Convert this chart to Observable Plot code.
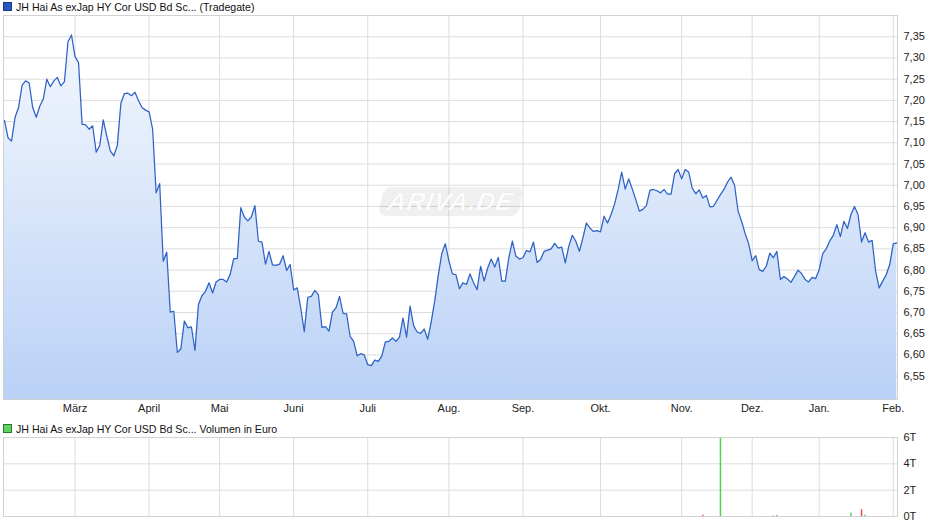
<!DOCTYPE html>
<html>
<head>
<meta charset="utf-8">
<script src="https://cdn.jsdelivr.net/npm/d3@7"></script>
<script src="https://cdn.jsdelivr.net/npm/@observablehq/plot@0.6"></script>
<style>
  html, body { margin: 0; padding: 0; background: #fff; }
  #wrap { position: relative; width: 940px; height: 526px; overflow: hidden; font-family: "Liberation Sans", Arial, sans-serif; }
  .legend { position: absolute; left: 3px; font-size: 10.6px; color: #111; white-space: nowrap; display: flex; align-items: center; }
  .legend .sw { width: 7px; height: 7px; margin-right: 4px; border: 1px solid; }
  .plot { position: absolute; left: 0; }
  #wm { position: absolute; left: 381px; top: 187px; width: 140px; height: 29px; border-radius: 8px;
        background: rgba(0,0,0,0.06); transform: skewX(-12deg); display: flex; align-items: center; justify-content: center; }
  #wm span { font: italic bold 25px "Liberation Sans", Arial, sans-serif; color: rgba(255,255,255,0.95); letter-spacing: 1px;
             text-shadow: 0 0 1px rgba(0,0,0,0.12); transform: skewX(2deg); }
</style>
</head>
<body>
<div id="wrap">
  <div class="legend" style="top:0px;height:13px"><span class="sw" style="background:#2659c0;border-color:#173a80"></span>JH Hai As exJap HY Cor USD Bd Sc... (Tradegate)</div>
  <div id="main" class="plot" style="top:0px"></div>
  <div id="wm"><span>ARIVA.DE</span></div>
  <div class="legend" style="top:422px;height:13px"><span class="sw" style="background:#5fd35f;border-color:#2a7a2a"></span>JH Hai As exJap HY Cor USD Bd Sc... Volumen in Euro</div>
  <div id="vol" class="plot" style="top:430px"></div>
</div>
<script>
// Daily closing prices (one per trading day)
const prices = [
  7.153, 7.112, 7.104, 7.160, 7.183, 7.236, 7.246, 7.241, 7.183, 7.160,
  7.186, 7.203, 7.250, 7.232, 7.246, 7.254, 7.234, 7.244, 7.338, 7.354,
  7.303, 7.289, 7.144, 7.142, 7.132, 7.140, 7.078, 7.093, 7.154, 7.116,
  7.081, 7.069, 7.094, 7.193, 7.216, 7.217, 7.211, 7.219, 7.199, 7.183,
  7.177, 7.173, 7.132, 6.982, 7.004, 6.821, 6.842, 6.701, 6.703, 6.606,
  6.614, 6.680, 6.664, 6.666, 6.611, 6.719, 6.740, 6.750, 6.770, 6.746,
  6.772, 6.778, 6.778, 6.772, 6.790, 6.827, 6.827, 6.947, 6.925, 6.916,
  6.925, 6.952, 6.868, 6.866, 6.814, 6.844, 6.812, 6.811, 6.814, 6.834,
  6.799, 6.813, 6.753, 6.758, 6.711, 6.655, 6.736, 6.738, 6.752, 6.742,
  6.665, 6.667, 6.656, 6.701, 6.711, 6.738, 6.698, 6.697, 6.644, 6.632,
  6.598, 6.603, 6.600, 6.577, 6.575, 6.588, 6.585, 6.598, 6.631, 6.632,
  6.640, 6.632, 6.642, 6.687, 6.642, 6.715, 6.669, 6.654, 6.651, 6.661,
  6.637, 6.678, 6.728, 6.788, 6.839, 6.862, 6.822, 6.791, 6.789, 6.756,
  6.770, 6.766, 6.791, 6.770, 6.754, 6.809, 6.774, 6.805, 6.826, 6.807,
  6.830, 6.774, 6.774, 6.829, 6.868, 6.833, 6.826, 6.829, 6.846, 6.843,
  6.866, 6.818, 6.825, 6.844, 6.847, 6.850, 6.863, 6.852, 6.854, 6.817,
  6.856, 6.882, 6.868, 6.844, 6.876, 6.911, 6.899, 6.891, 6.893, 6.890,
  6.927, 6.911, 6.931, 6.956, 6.990, 7.031, 6.991, 7.015, 6.991, 6.966,
  6.939, 6.943, 6.952, 6.988, 6.990, 6.987, 6.982, 6.990, 6.979, 6.979,
  7.027, 7.037, 7.015, 7.037, 7.031, 6.993, 6.980, 6.989, 6.970, 6.976,
  6.949, 6.950, 6.964, 6.978, 6.990, 7.007, 7.019, 7.000, 6.939, 6.915,
  6.886, 6.862, 6.822, 6.834, 6.801, 6.797, 6.809, 6.840, 6.829, 6.844,
  6.778, 6.785, 6.779, 6.771, 6.785, 6.800, 6.792, 6.778, 6.772, 6.783,
  6.780, 6.801, 6.839, 6.850, 6.869, 6.882, 6.907, 6.879, 6.915, 6.898,
  6.931, 6.950, 6.931, 6.866, 6.888, 6.866, 6.870, 6.797, 6.758, 6.774,
  6.789, 6.813, 6.862, 6.864
];
// Month labels and the trading-day index where each month starts
const monthLabels = ["März", "April", "Mai", "Juni", "Juli", "Aug.", "Sep.", "Okt.", "Nov.", "Dez.", "Jan.", "Feb."];
const monthStart  = [20, 41, 61, 82, 103, 126, 147, 169, 192, 212, 231, 252];
// Price axis ticks
const priceTicks = [6.55, 6.60, 6.65, 6.70, 6.75, 6.80, 6.85, 6.90, 6.95, 7.00, 7.05, 7.10, 7.15, 7.20, 7.25, 7.30, 7.35];
const priceDomain = [6.495, 7.40];
// Volume (in T), sparse: trading-day index, value, direction
const volDay   = [198, 203, 218, 219, 240, 243, 244];
const volValue = [0.10, 5.95, 0.04, 0.07, 0.24, 0.52, 0.09];
const volUp    = [false, true, false, true, true, false, true];
const volTicks = [0, 2, 4, 6];
const volTickLabels = ["0T", "2T", "4T", "6T"];

const xDomain = [-0.28, prices.length - 1 + 0.2];
const FONT = '"Liberation Sans", Arial, sans-serif';
const GRID = "#dcdcdc";

const series = prices.map((v, i) => ({i, v}));

const main = Plot.plot({
  width: 940, height: 420,
  marginTop: 15, marginBottom: 21, marginLeft: 3, marginRight: 43,
  style: {fontFamily: FONT, fontSize: "11px", color: "#222", background: "transparent", overflow: "visible"},
  x: {domain: xDomain, axis: null},
  y: {domain: priceDomain, axis: null},
  marks: [
    Plot.ruleY(priceTicks, {stroke: GRID, strokeWidth: 1}),
    Plot.ruleX(monthStart, {stroke: GRID, strokeWidth: 1}),
    Plot.areaY(series, {x: "i", y1: priceDomain[0], y2: "v", fill: "url(#areaGrad)"}),
    Plot.lineY(series, {x: "i", y: "v", stroke: "#2e62c6", strokeWidth: 1.25, strokeLinejoin: "round"}),
    Plot.frame({stroke: "#d2d2d2", strokeWidth: 1}),
    Plot.text(monthStart, {x: d => d, y: priceDomain[0], text: (d, k) => monthLabels[k], dy: 9, fill: "#222", fontSize: 11}),
    Plot.text(priceTicks, {y: d => d, frameAnchor: "right", dx: 6, textAnchor: "start",
      text: d => d.toFixed(2).replace(".", ","), fill: "#222", fontSize: 11})
  ]
});

d3.select(main).insert("defs", ":first-child")
  .append("linearGradient")
  .attr("id", "areaGrad").attr("gradientUnits", "userSpaceOnUse")
  .attr("x1", 0).attr("x2", 0).attr("y1", 15).attr("y2", 399)
  .call(g => {
    g.append("stop").attr("offset", "0").attr("stop-color", "#f6f9fe");
    g.append("stop").attr("offset", "0.5").attr("stop-color", "#d9e6fa");
    g.append("stop").attr("offset", "1").attr("stop-color", "#b9d1f6");
  });
document.getElementById("main").appendChild(main);

const volData = volDay.map((d, k) => ({i: d, v: volValue[k], up: volUp[k]}));
const vol = Plot.plot({
  width: 940, height: 96,
  marginTop: 7, marginBottom: 10, marginLeft: 3, marginRight: 43,
  style: {fontFamily: FONT, fontSize: "11px", color: "#222", background: "transparent", overflow: "visible"},
  x: {domain: xDomain, axis: null},
  y: {domain: [0, 6], axis: null},
  marks: [
    Plot.ruleY(volTicks, {stroke: GRID}),
    Plot.ruleX(monthStart, {stroke: GRID}),
    Plot.frame({stroke: "#d2d2d2"}),
    Plot.ruleX(volData, {x: "i", y1: 0, y2: "v", stroke: d => d.up ? "#4fd24f" : "#e05050", strokeWidth: 1.5}),
    Plot.text(volTicks, {y: d => d, frameAnchor: "right", dx: 6, textAnchor: "start",
      text: (d, k) => volTickLabels[k], fill: "#222", fontSize: 11})
  ]
});
document.getElementById("vol").appendChild(vol);
</script>
</body>
</html>
